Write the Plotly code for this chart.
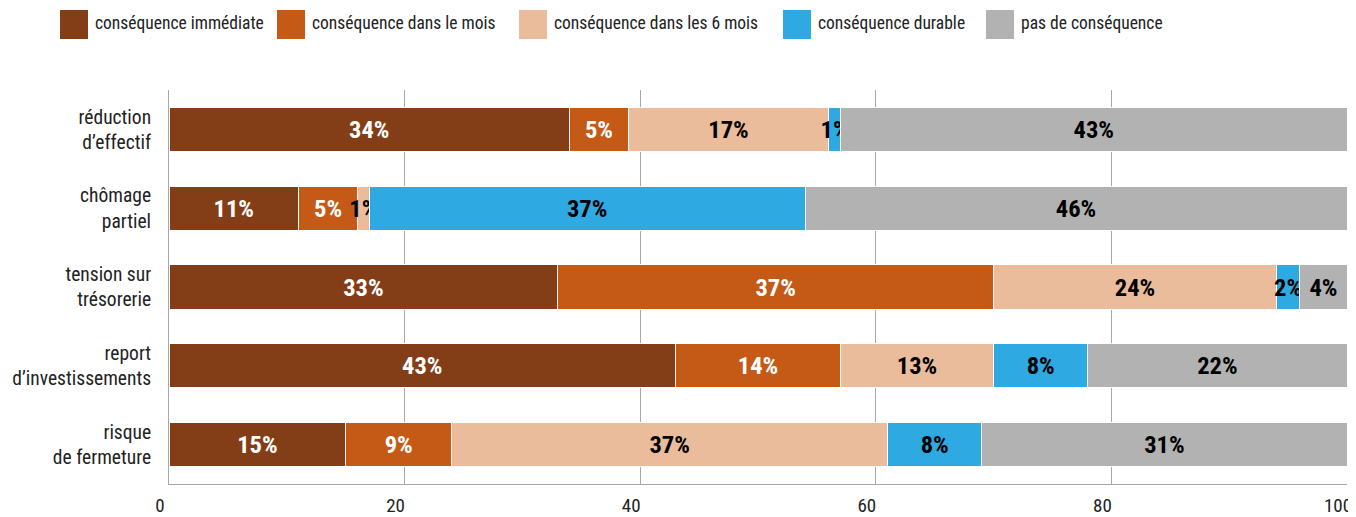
import plotly.graph_objects as go

categories = ["réduction<br>d’effectif", "chômage<br>partiel", "tension sur<br>trésorerie",
              "report<br>d’investissements", "risque<br>de fermeture"]
series_names = ["conséquence immédiate", "conséquence dans le mois",
                "conséquence dans les 6 mois", "conséquence durable", "pas de conséquence"]
immediate = [34, 11, 33, 43, 15]
within_month = [5, 5, 37, 14, 9]
within_6_months = [17, 1, 24, 13, 37]
lasting = [1, 37, 2, 8, 8]
none_ = [43, 46, 4, 22, 31]
x_ticks = [0, 20, 40, 60, 80, 100]

series_values = [immediate, within_month, within_6_months, lasting, none_]
colors = ["#843E17", "#C55A17", "#EABC9B", "#2EA9E1", "#B2B2B2"]
text_colors = ["white", "white", "black", "black", "black"]

FONT = "Roboto Condensed, Liberation Sans Narrow, Arial Narrow, sans-serif"

fig = go.Figure()
for name, vals, col, tc in zip(series_names, series_values, colors, text_colors):
    fig.add_trace(go.Bar(
        y=categories, x=vals, name=name, orientation="h",
        marker=dict(color=col, line=dict(color="white", width=1)),
        text=[f"{v}%" for v in vals], textposition="inside",
        insidetextanchor="middle", textangle=0, constraintext="none",
        textfont=dict(family=FONT, size=24.5, color=tc, weight="bold"),
        showlegend=False, hoverinfo="skip",
    ))

# manual legend (large swatches like the reference); positions relative to plot area
legend_x = [60, 277, 519, 783, 986]
PW, PH = 1178, 394
shapes = []
annotations = []
for lx, name, col in zip(legend_x, series_names, colors):
    shapes.append(dict(type="rect", xref="paper", yref="paper",
                       x0=(lx - 169) / PW, x1=(lx + 28 - 169) / PW,
                       y0=1 + (90 - 39) / PH, y1=1 + (90 - 10) / PH,
                       fillcolor=col, line=dict(width=0)))
    annotations.append(dict(xref="paper", yref="paper",
                            x=(lx + 33 - 169) / PW, y=1 + (90 - 23) / PH,
                            xanchor="left", yanchor="middle", showarrow=False,
                            text=name, font=dict(family=FONT, size=17.5, color="#222")))

# page body has an 8px margin: the figure is sized so it ends at the window edge
fig.update_layout(
    width=1348, height=509,
    margin=dict(l=161, r=9, t=82, b=33, autoexpand=False),
    barmode="stack", bargap=0.44,
    plot_bgcolor="white", paper_bgcolor="white",
    shapes=shapes, annotations=annotations,
    font=dict(family=FONT, color="#222"),
)
fig.update_xaxes(range=[0, 100], tickvals=x_ticks, ticktext=[str(t) for t in x_ticks],
                 showgrid=True, gridcolor="#A8A8A8", gridwidth=1,
                 showline=True, linecolor="#A8A8A8", linewidth=1,
                 zeroline=False, ticks="", tickfont=dict(family=FONT, size=19, color="#222"),
                 ticklabelstandoff=4, ticklabelshift=-9, ticklabeloverflow="allow",
                 automargin=False, fixedrange=True)
fig.update_yaxes(autorange="reversed", showline=True, linecolor="#A8A8A8", linewidth=1,
                 ticks="", tickfont=dict(family=FONT, size=19.5, color="#222"),
                 ticklabelstandoff=13, automargin=False, fixedrange=True)

fig.write_html("out.html")
